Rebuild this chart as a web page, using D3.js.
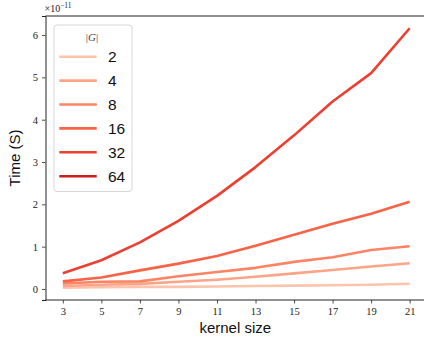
<!DOCTYPE html>
<html>
<head>
<meta charset="utf-8">
<script src="https://cdn.jsdelivr.net/npm/d3@7"></script>
<style>
  body { margin: 0; background: #fff; }
  svg { display: block; }
</style>
</head>
<body>
<div class="container"></div>
<script>
// kernel sizes on the x axis
const kernelSizes = [3, 5, 7, 9, 11, 13, 15, 17, 19, 21];
// group sizes |G|, one line each (64 has no data drawn in the figure)
const groups = [2, 4, 8, 16, 32, 64];
// times in units of 1e-11 s
const time2  = [0.03, 0.04, 0.05, 0.05, 0.06, 0.07, 0.08, 0.09, 0.10, 0.125];
const time4  = [0.07, 0.10, 0.12, 0.17, 0.22, 0.29, 0.37, 0.45, 0.53, 0.61];
const time8  = [0.13, 0.17, 0.18, 0.30, 0.40, 0.50, 0.64, 0.75, 0.92, 1.01];
const time16 = [0.18, 0.27, 0.44, 0.60, 0.78, 1.02, 1.28, 1.54, 1.78, 2.06];
const time32 = [0.37, 0.68, 1.10, 1.61, 2.20, 2.88, 3.63, 4.43, 5.10, 6.16];
const time64 = [];
const yTicks = [0, 1, 2, 3, 4, 5, 6];

const seriesValues = [time2, time4, time8, time16, time32, time64];

const width = 424, height = 339;
const margin = {top: 16, right: -3, bottom: 39, left: 45.5};

const svg = d3.select('.container')
    .append('svg')
    .attr('width', width)
    .attr('height', height);

const x = d3.scaleLinear()
    .domain([2.1, 21.9])
    .range([margin.left, width - margin.right]);

const y = d3.scaleLinear()
    .domain([-0.26, 6.45])
    .range([height - margin.bottom, margin.top]);

const color = d3.scaleOrdinal()
    .domain(groups)
    .range([0.22, 0.32, 0.42, 0.52, 0.62, 0.75].map(t => d3.interpolateReds(t)));

// lines
const line = d3.line()
    .x((d, i) => x(kernelSizes[i]))
    .y(d => y(d));

svg.append('g')
    .attr('class', 'lines')
    .selectAll('path')
    .data(groups.map((g, i) => ({g, values: seriesValues[i]})).filter(s => s.values.length))
    .enter().append('path')
    .attr('d', d => line(d.values))
    .attr('fill', 'none')
    .attr('stroke', d => color(d.g))
    .attr('stroke-width', 2.6)
    .attr('stroke-linejoin', 'round');

// axes
const xAxis = svg.append('g')
    .attr('transform', `translate(0,${height - margin.bottom})`)
    .call(d3.axisBottom(x).tickValues(kernelSizes).tickFormat(d3.format('d')).tickSize(3.5).tickPadding(4));

const yAxis = svg.append('g')
    .attr('transform', `translate(${margin.left},0)`)
    .call(d3.axisLeft(y).tickValues(yTicks).tickFormat(d3.format('d')).tickSize(3.5).tickPadding(4));

[xAxis, yAxis].forEach(a => {
    a.selectAll('text')
        .attr('font-family', 'Liberation Serif, DejaVu Serif, serif')
        .attr('font-size', 10.5)
        .attr('fill', '#222');
    a.selectAll('line').attr('stroke', '#222').attr('stroke-width', 0.8);
    a.select('.domain').attr('stroke', '#222').attr('stroke-width', 1);
});
xAxis.select('.domain').attr('d', `M${margin.left},0H${width + 5}`);

// top spine
svg.append('line')
    .attr('x1', margin.left).attr('x2', width + 5)
    .attr('y1', margin.top).attr('y2', margin.top)
    .attr('stroke', '#222').attr('stroke-width', 1);

// offset label
const off = svg.append('text')
    .attr('x', margin.left - 1)
    .attr('y', 12)
    .attr('font-family', 'Liberation Serif, DejaVu Serif, serif')
    .attr('font-size', 10)
    .attr('fill', '#222');
off.append('tspan').text('×10');
off.append('tspan').attr('dy', -4).attr('font-size', 7.5).text('−11');

// axis labels
svg.append('text')
    .attr('x', (margin.left + 424 + 3) / 2 - 1)
    .attr('y', 333)
    .attr('text-anchor', 'middle')
    .attr('font-family', 'Liberation Sans, Arial, sans-serif')
    .attr('font-size', 15)
    .attr('fill', '#111')
    .text('kernel size');

svg.append('text')
    .attr('transform', `translate(20,${(margin.top + height - margin.bottom) / 2}) rotate(-90)`)
    .attr('text-anchor', 'middle')
    .attr('font-family', 'Liberation Sans, Arial, sans-serif')
    .attr('font-size', 15)
    .attr('fill', '#111')
    .text('Time (S)');

// legend
const legend = svg.append('g').attr('class', 'legend');
legend.append('rect')
    .attr('x', 54).attr('y', 25)
    .attr('width', 78).attr('height', 166.5)
    .attr('rx', 3)
    .attr('fill', 'rgba(255,255,255,0.85)')
    .attr('stroke', '#d6d6d6')
    .attr('stroke-width', 1);

legend.append('text')
    .attr('x', 92).attr('y', 40.5)
    .attr('text-anchor', 'middle')
    .attr('font-family', 'Liberation Serif, DejaVu Serif, serif')
    .attr('font-size', 11)
    .attr('fill', '#444')
    .html('|<tspan font-style="italic">G</tspan>|');

const item = legend.selectAll('g.item')
    .data(groups)
    .enter().append('g')
    .attr('class', 'item')
    .attr('transform', (d, i) => `translate(0,${56.7 + i * 23.9})`);

item.append('line')
    .attr('x1', 59.3).attr('x2', 96.7)
    .attr('stroke', d => color(d))
    .attr('stroke-width', 2.6);

item.append('text')
    .attr('x', 108).attr('y', 5.5)
    .attr('font-family', 'Liberation Sans, Arial, sans-serif')
    .attr('font-size', 15.5)
    .attr('fill', '#111')
    .text(d => d);
</script>
</body>
</html>
